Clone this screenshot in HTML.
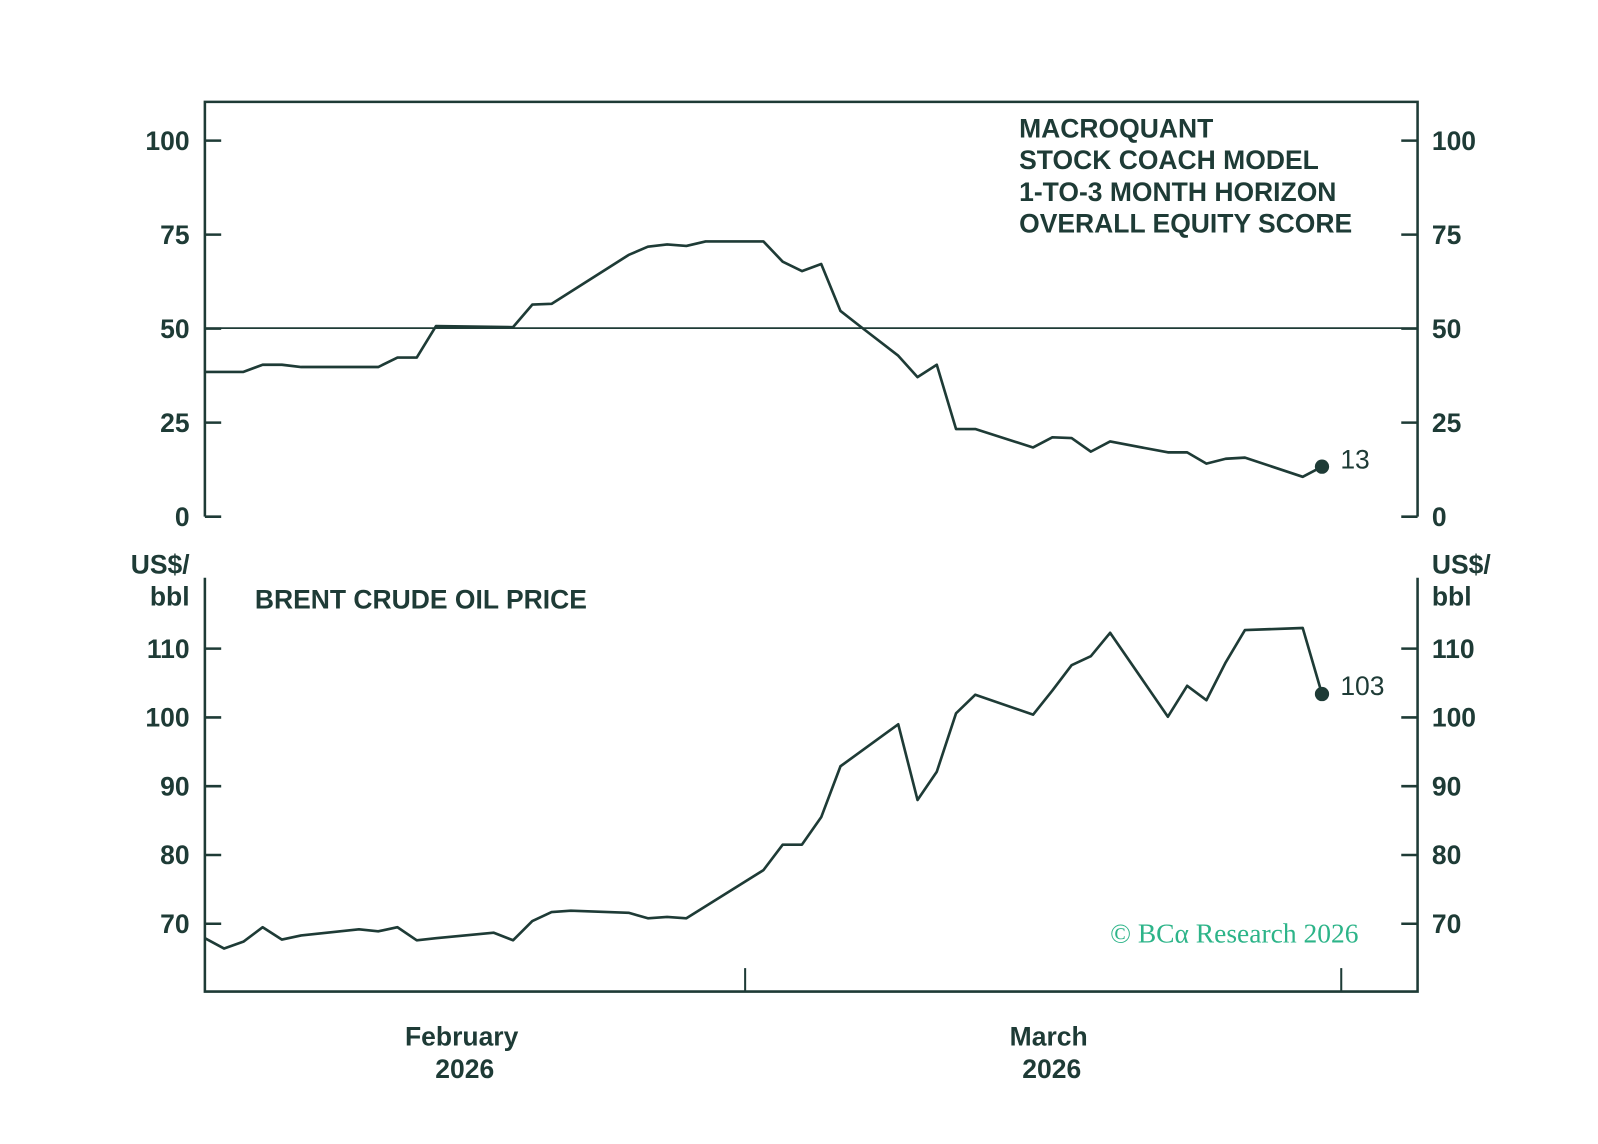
<!DOCTYPE html>
<html><head><meta charset="utf-8"><style>
html,body{margin:0;padding:0;background:#fff;width:1598px;height:1144px;overflow:hidden}
svg{display:block}
text{font-family:"Liberation Sans",sans-serif;fill:#1e3b36;font-weight:bold}
</style></head><body>
<svg id="chart" width="1598" height="1144" viewBox="0 0 1568 1122.6" xmlns="http://www.w3.org/2000/svg">
<g id="frame" stroke="#1e3b36" stroke-width="2.5" fill="none">
<path d="M201,507 L201,100 L1391,100 L1391,507"/>
<path d="M201,567 L201,973 L1391,973 L1391,567"/>
<line x1="201" x2="1391" y1="322" y2="322" stroke-width="1.8"/>
</g>
<g id="axes"></g>
<g id="series"></g>
<g font-size="26">
<text x="1000" y="135">MACROQUANT</text>
<text x="1000" y="166">STOCK COACH MODEL</text>
<text x="1000" y="197">1-TO-3 MONTH HORIZON</text>
<text x="1000" y="228">OVERALL EQUITY SCORE</text>
<text x="250" y="597">BRENT CRUDE OIL PRICE</text>
<text x="186" y="563" text-anchor="end">US$/</text>
<text x="186" y="594" text-anchor="end">bbl</text>
<text x="1405" y="563">US$/</text>
<text x="1405" y="594">bbl</text>
<text x="453" y="1026" text-anchor="middle">February</text>
<text x="456" y="1058" text-anchor="middle">2026</text>
<text x="1029" y="1026" text-anchor="middle">March</text>
<text x="1032" y="1058" text-anchor="middle">2026</text>
<text x="1333" y="925" text-anchor="end" font-size="27" style="fill:#2db489;font-family:'Liberation Serif',serif;font-weight:normal">© BCα Research 2026</text>
</g>
</svg>
<script>
const scoreDays=[0,2,3,4,5,9,10,11,12,16,17,18,22,23,24,25,26,29,30,31,32,33,34,36,37,38,39,40,43,44,45,46,47,50,51,52,53,54,57,58];
const scoreVals=[38.5,38.5,40.4,40.4,39.8,39.8,42.3,42.3,50.7,50.4,56.4,56.6,69.6,71.8,72.4,72,73.2,73.2,67.8,65.3,67.2,54.7,50.7,42.8,37.1,40.4,23.3,23.3,18.4,21.1,20.9,17.3,20,17.1,17.1,14.1,15.4,15.7,10.6,13.3];
const oilDays=[0,1,2,3,4,5,8,9,10,11,12,15,16,17,18,19,22,23,24,25,29,30,31,32,33,36,37,38,39,40,43,44,45,46,47,50,51,52,53,54,57,58];
const oilVals=[67.9,66.4,67.4,69.5,67.7,68.3,69.2,68.9,69.5,67.6,67.9,68.7,67.6,70.4,71.7,71.9,71.6,70.8,71,70.8,77.8,81.5,81.5,85.5,92.9,99,88,92.1,100.6,103.3,100.4,103.9,107.6,108.9,112.3,100.1,104.6,102.5,108,112.7,113,103.4];
const scoreTicks=[0,25,50,75,100];
const oilTicks=[70,80,90,100,110];
const monthBoundaries=[28.05,59];
const scoreLabel="13", oilLabel="103";

const NS="http://www.w3.org/2000/svg";
const xS=d=>201+d*18.9;
const yTop=v=>507-v*3.69;
const yBot=v=>704-(v-100)*6.75;
function mk(tag,attrs,parent){const e=document.createElementNS(NS,tag);for(const k in attrs)e.setAttribute(k,attrs[k]);parent.appendChild(e);return e;}
const axes=document.getElementById('axes'), series=document.getElementById('series');
const C="#1e3b36";
scoreTicks.forEach(t=>{
  const y=yTop(t);
  let l=mk('line',{x1:201,x2:217,y1:y,y2:y,stroke:C,'stroke-width':2.5},axes);
  
  
  let r=mk('line',{x1:1375,x2:1391,y1:y,y2:y,stroke:C,'stroke-width':2.5},axes);
  
  
  let a=mk('text',{x:186,y:y+9,'text-anchor':'end','font-size':26},axes);a.textContent=t;
  
  
  let b=mk('text',{x:1405,y:y+9,'font-size':26},axes);b.textContent=t;
  
  
});
oilTicks.forEach(t=>{
  const y=yBot(t);
  let l=mk('line',{x1:201,x2:217,y1:y,y2:y,stroke:C,'stroke-width':2.5},axes);
  
  
  let r=mk('line',{x1:1375,x2:1391,y1:y,y2:y,stroke:C,'stroke-width':2.5},axes);
  
  
  let a=mk('text',{x:186,y:y+9,'text-anchor':'end','font-size':26},axes);a.textContent=t;
  
  
  let b=mk('text',{x:1405,y:y+9,'font-size':26},axes);b.textContent=t;
  
  
});
monthBoundaries.forEach(d=>{
  let l=mk('line',{x1:xS(d),x2:xS(d),y1:950,y2:973,stroke:C,'stroke-width':2},axes);
  
  
});
function line(days,vals,yf,name){
  const p=mk('polyline',{points:days.map((d,i)=>xS(d)+','+yf(vals[i])).join(' '),fill:'none',stroke:C,'stroke-width':2.6,'stroke-linejoin':'round'},series);
  
  
}
line(scoreDays,scoreVals,yTop,'equity-score-line');
line(oilDays,oilVals,yBot,'brent-price-line');
const ls=scoreDays.length-1, lo=oilDays.length-1;
let c1=mk('circle',{cx:xS(scoreDays[ls]),cy:yTop(scoreVals[ls]),r:7,fill:C},series);


let t1=mk('text',{x:xS(scoreDays[ls])+18,y:yTop(scoreVals[ls])+2,'font-size':26,style:'font-weight:normal'},series);t1.textContent=scoreLabel;


let c2=mk('circle',{cx:xS(oilDays[lo]),cy:yBot(oilVals[lo]),r:7,fill:C},series);


let t2=mk('text',{x:xS(oilDays[lo])+18,y:yBot(oilVals[lo])+1,'font-size':26,style:'font-weight:normal'},series);t2.textContent=oilLabel;


</script>
</body></html>
